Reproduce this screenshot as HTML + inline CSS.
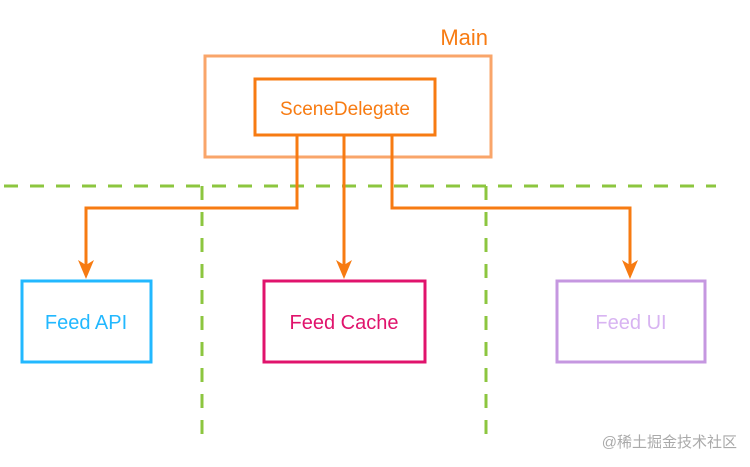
<!DOCTYPE html>
<html><head><meta charset="utf-8"><style>
html,body{margin:0;padding:0;background:#fff;}
svg{display:block;font-family:"Liberation Sans",Arial,sans-serif;}
</style></head><body>
<svg width="750" height="467" viewBox="0 0 750 467" xmlns="http://www.w3.org/2000/svg">
<text x="488" y="45" text-anchor="end" font-size="22" fill="#f77b12">Main</text>
<rect x="205" y="56" width="286" height="101" fill="none" stroke="#f9a56a" stroke-width="3"/>
<rect x="255" y="79" width="180" height="56" fill="none" stroke="#f77b12" stroke-width="3"/>
<text x="345" y="115" text-anchor="middle" font-size="19" fill="#f77b12">SceneDelegate</text>
<g stroke="#8cc63f" stroke-width="3" stroke-dasharray="14,12" fill="none">
<line x1="4" y1="186" x2="716" y2="186"/>
<line x1="202" y1="186" x2="202" y2="442"/>
<line x1="486" y1="186" x2="486" y2="440"/>
</g>
<g stroke="#f77b12" stroke-width="3" fill="none">
<polyline points="297,135 297,208 86,208 86,268"/>
<line x1="344" y1="135" x2="344" y2="268"/>
<polyline points="392,135 392,208 630,208 630,268"/>
</g>
<g fill="#f77b12">
<polygon points="78,260 86,279 94,260 86,265"/>
<polygon points="336,260 344,279 352,260 344,265"/>
<polygon points="622,260 630,279 638,260 630,265"/>
</g>
<rect x="22" y="281" width="129" height="81" fill="none" stroke="#22b8ff" stroke-width="3"/>
<text x="86" y="329" text-anchor="middle" font-size="20" fill="#22b8ff">Feed API</text>
<rect x="264" y="281" width="161" height="81" fill="none" stroke="#e0136c" stroke-width="3"/>
<text x="344" y="329" text-anchor="middle" font-size="20" fill="#e0136c">Feed Cache</text>
<rect x="557" y="281" width="148" height="81" fill="none" stroke="#c597e0" stroke-width="3"/>
<text x="631" y="329" text-anchor="middle" font-size="20" fill="#d8b4f2">Feed UI</text>
<text x="737" y="447" text-anchor="end" font-size="15" fill="#aaa" font-family="'Liberation Sans','Noto Sans CJK SC',sans-serif">@稀土掘金技术社区</text>
</svg>
</body></html>
